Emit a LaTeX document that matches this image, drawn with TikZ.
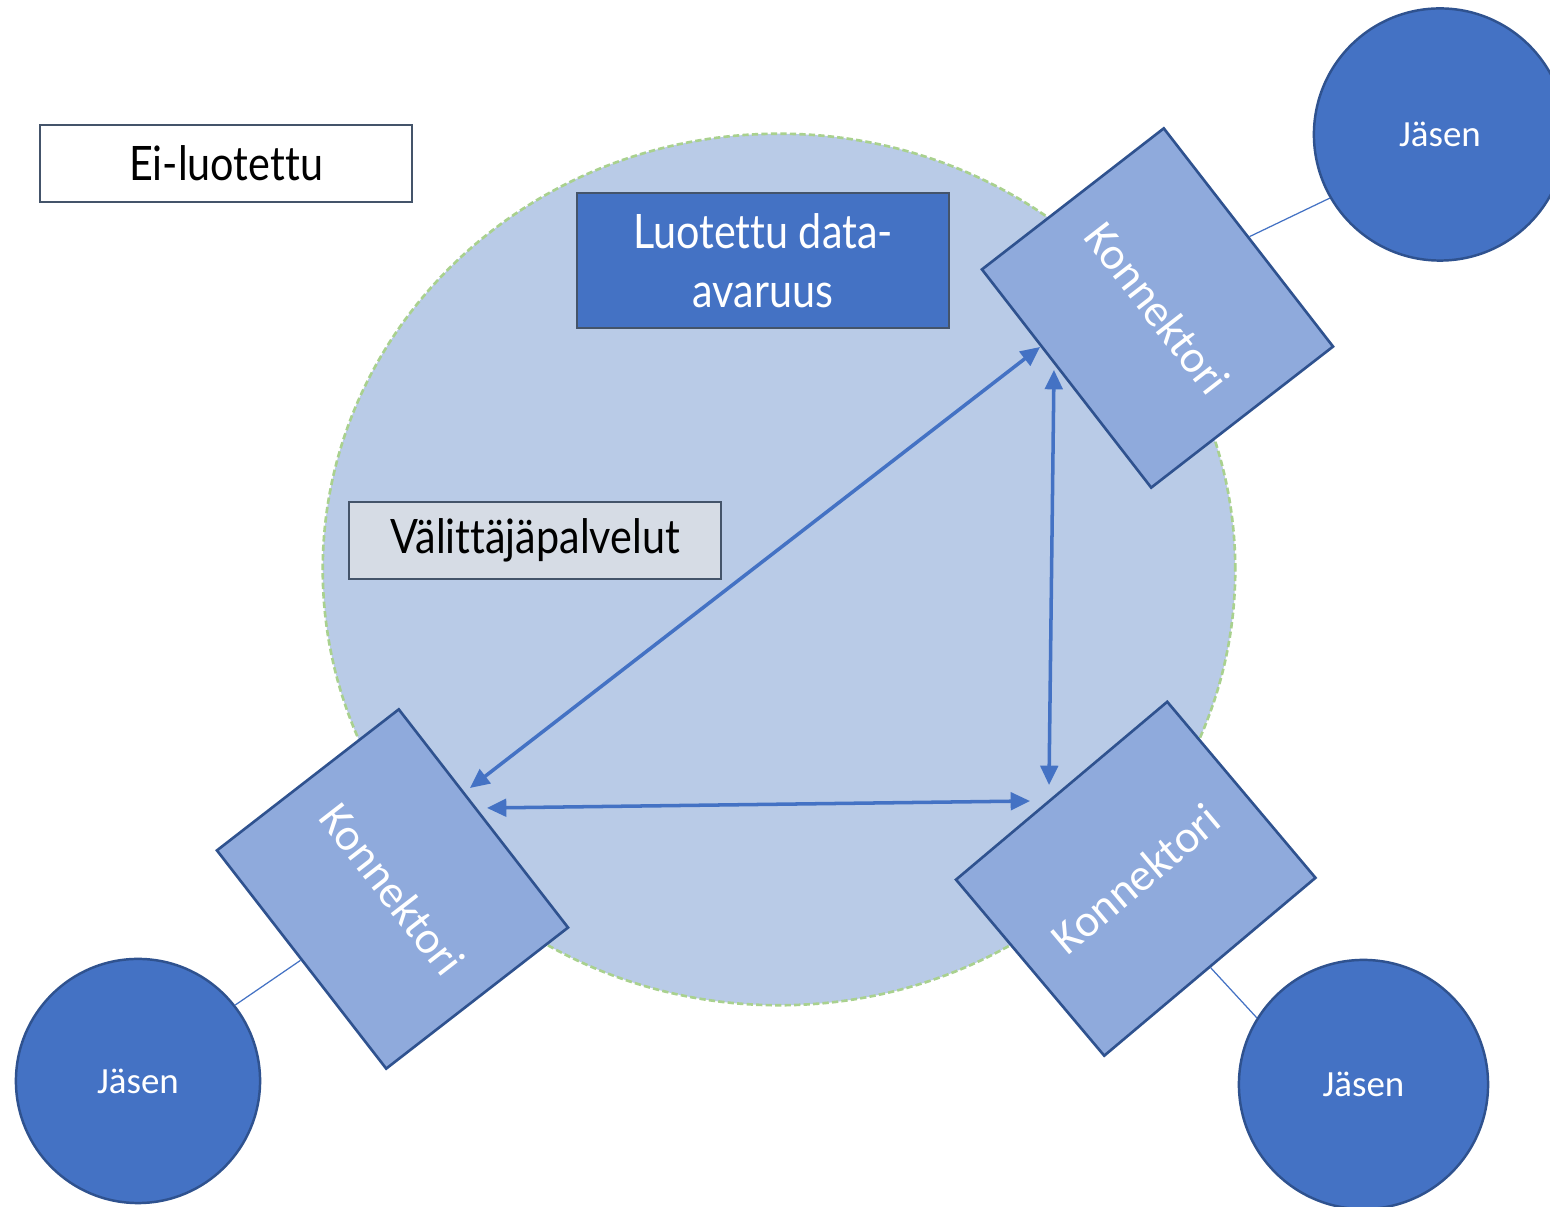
\documentclass[tikz,border=0pt]{standalone}
\usepackage{fontspec}
\setmainfont{Carlito}
\newfontfamily\twfont[FakeStretch=0.87,RawFeature={-liga;-clig;-dlig;-calt}]{Lato}
\usetikzlibrary{arrows.meta,calc,shapes.geometric}
\definecolor{accent}{HTML}{4472C4}
\definecolor{accentdark}{HTML}{2F528F}
\definecolor{spacefill}{HTML}{B9CBE7}
\definecolor{spaceedge}{HTML}{A9D18E}
\definecolor{konnfill}{HTML}{8FAADC}
\definecolor{boxedge}{HTML}{44546A}
\definecolor{brokerfill}{HTML}{D6DCE5}
\tikzset{
  space/.style={ellipse, fill=spacefill, draw=spaceedge, line width=0.75pt, dash pattern=on 1.8pt off 0.9pt, minimum width=9.12cm, minimum height=8.71cm, inner sep=0pt},
  labelbox/.style={rectangle, draw=boxedge, line width=0.6pt, minimum width=3.72cm, inner sep=0pt, align=center, font=\twfont\fontsize{13.5}{16.8}\selectfont},
  konn/.style={rectangle, fill=konnfill, draw=accentdark, line width=0.75pt, minimum width=2.76cm, minimum height=2.30cm, inner sep=0pt, text=white, font=\fontsize{13}{15}\selectfont},
  member/.style={circle, fill=accent, draw=accentdark, line width=0.7pt, inner sep=0pt, text=white, font=\fontsize{10.5}{12}\selectfont},
  link/.style={accent, line width=1pt, {Triangle[length=5.5pt,width=5pt]}-{Triangle[length=5.5pt,width=5pt]}},
  tie/.style={accent, line width=0.35pt}
}
\begin{document}
\begin{tikzpicture}[x=0.01cm,y=-0.01cm]
\clip (0,0) rectangle (1550,1207);
\fill[white] (0,0) rectangle (1550,1207);

% trusted data space
\node[space] (space) at (779,569.5) {};

% labels
\node[labelbox, fill=white, minimum height=0.77cm] (untrusted) at (226,163.5) {Ei-luotettu};
\node[labelbox, fill=accent, text=white, minimum height=1.35cm] (trusted) at (763,260.5) {Luotettu data-\\avaruus};
\node[labelbox, fill=brokerfill, minimum height=0.77cm] (broker) at (535,540.5) {Välittäjäpalvelut};

% connectors
\node[konn, rotate=-52.2] (kTR) at (1157.5,308) {Konnektori};
\node[konn, rotate=-52.2] (kBL) at (392.5,889) {Konnektori};
\node[konn, rotate=40.1] (kBR) at (1135.75,878.75) {Konnektori};

% members
\node[member, minimum size=2.52cm] (jTR) at (1440,134.5) {Jäsen};
\node[member, minimum size=2.44cm] (jBL) at (138,1081) {Jäsen};
\node[member, minimum size=2.49cm] (jBR) at (1363.5,1084.5) {Jäsen};

% ties between connectors and members
\draw[tie] (kTR.north) -- (jTR.210);
\draw[tie] (kBL.south) -- (jBL.38);
\draw[tie] (kBR.south) -- (jBR.148);

% arrow end points
\coordinate (tA) at (1040,347);
\coordinate (bA) at (470,788);
\coordinate (tB) at (1054,370);
\coordinate (bB) at (1049,785);
\coordinate (lC) at (487,808);
\coordinate (rC) at (1030,801);

\draw[link] (bA) -- (tA);
\draw[link] (bB) -- (tB);
\draw[link] (lC) -- (rC);
\end{tikzpicture}
\end{document}
